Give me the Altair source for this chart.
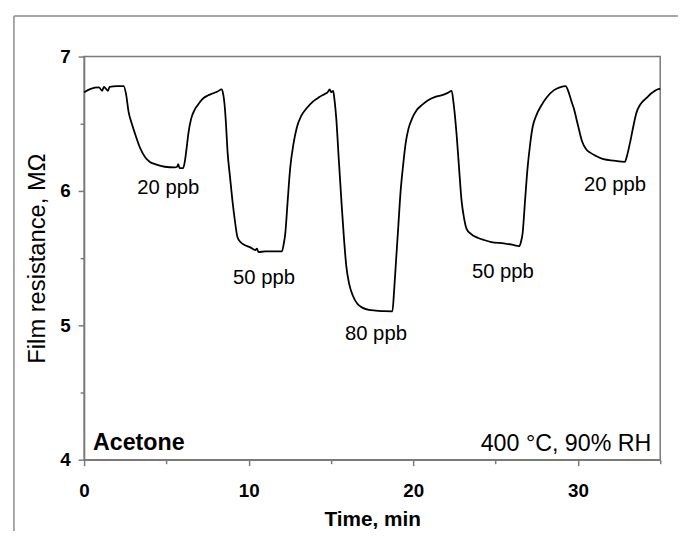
import altair as alt
import pandas as pd

# ---- data ----
time_min = [
    0, 0.4, 0.9, 1.1, 1.2, 1.45, 1.55, 2.0, 2.4,
    2.55, 2.7, 2.9, 3.11, 3.4, 3.71, 4.0, 4.31, 4.9, 5.5, 5.65, 5.72, 5.8, 6.02,
    6.12, 6.21, 6.35, 6.51, 6.7, 6.91, 7.2, 7.51, 7.8, 8.11, 8.35,
    8.45, 8.52, 8.62, 8.71, 8.86, 9.01, 9.16, 9.31, 9.5, 9.72, 10.1, 10.4, 10.5, 10.6, 11.0, 11.5, 12.02,
    12.12, 12.22, 12.37, 12.52, 12.72, 12.92, 13.2, 13.52, 13.9, 14.32, 14.6, 14.8, 14.92, 15.0, 15.13,
    15.22, 15.32, 15.47, 15.63, 15.78, 15.93, 16.1, 16.33, 16.6, 16.93, 17.3, 17.73, 18.2, 18.73,
    18.83, 18.93, 19.08, 19.23, 19.38, 19.53, 19.7, 19.93, 20.2, 20.53, 20.9, 21.33, 21.8, 22.1, 22.33,
    22.45, 22.63, 22.78, 22.93, 23.08, 23.23, 23.5, 23.94, 24.3, 24.74, 25.5, 26.0, 26.44,
    26.54, 26.64, 26.79, 26.94, 27.09, 27.24, 27.5, 27.75, 28.1, 28.55, 28.9, 29.25,
    29.45, 29.6, 29.75, 30.0, 30.25, 30.5, 30.75, 31.1, 31.55, 32.2, 32.85,
    32.98, 33.15, 33.35, 33.55, 33.8, 34.15, 34.5, 34.96, 35.0,
]
resistance = [
    6.735, 6.76, 6.77, 6.745, 6.775, 6.745, 6.775, 6.78, 6.78,
    6.72, 6.59, 6.50, 6.42, 6.32, 6.25, 6.215, 6.20, 6.18, 6.175, 6.18, 6.20, 6.17, 6.17,
    6.22, 6.30, 6.44, 6.54, 6.60, 6.64, 6.685, 6.71, 6.725, 6.74, 6.755,
    6.72, 6.66, 6.50, 6.30, 6.11, 5.93, 5.78, 5.66, 5.62, 5.60, 5.58, 5.56, 5.57, 5.545, 5.55, 5.55, 5.55,
    5.60, 5.68, 5.93, 6.17, 6.35, 6.47, 6.56, 6.615, 6.665, 6.70, 6.72, 6.735, 6.755, 6.735, 6.745,
    6.67, 6.54, 6.24, 5.93, 5.66, 5.44, 5.31, 5.22, 5.16, 5.13, 5.115, 5.11, 5.105, 5.104,
    5.25, 5.44, 5.72, 6.00, 6.19, 6.35, 6.46, 6.54, 6.60, 6.64, 6.675, 6.70, 6.715, 6.73, 6.745,
    6.65, 6.42, 6.17, 5.93, 5.80, 5.72, 5.68, 5.65, 5.635, 5.62, 5.61, 5.60, 5.59,
    5.62, 5.685, 5.93, 6.17, 6.34, 6.47, 6.57, 6.63, 6.695, 6.75, 6.77, 6.78,
    6.73, 6.67, 6.615, 6.49, 6.37, 6.31, 6.285, 6.26, 6.236, 6.225, 6.216,
    6.26, 6.35, 6.47, 6.58, 6.645, 6.69, 6.73, 6.76, 6.76,
]

label_text = ["20 ppb", "50 ppb", "80 ppb", "50 ppb", "20 ppb"]
label_time = [5.11, 10.93, 17.73, 25.44, 32.25]
label_value = [5.98, 5.305, 4.888, 5.354, 6.003]

x_ticks = [0, 5, 10, 15, 20, 25, 30, 35]
y_ticks = [4, 4.5, 5, 5.5, 6, 6.5, 7]

FONT = "Liberation Sans"
AXIS_GREY = "#7a7a7a"

df = pd.DataFrame({"t": time_min, "r": resistance})
labels = pd.DataFrame({"text": label_text, "t": label_time, "r": label_value})

x_scale = alt.Scale(domain=[0, 35], nice=False, zero=False)
y_scale = alt.Scale(domain=[4, 7], nice=False, zero=False)

x_axis = alt.Axis(
    title="Time, min",
    values=x_ticks,
    labelExpr="datum.value % 10 === 0 ? format(datum.value, 'd') : ''",
    tickSize={"condition": {"test": "datum.value % 10 !== 0", "value": 4}, "value": 6},
    grid=False,
    labelFont=FONT, labelFontSize=19, labelFontWeight="bold", labelColor="black",
    labelPadding=16, labelFlush=False, labelOverlap=False,
    titleFont=FONT, titleFontSize=21, titleFontWeight="bold", titleColor="black",
    titlePadding=9,
    domainColor=AXIS_GREY, domainWidth=1.5, tickColor=AXIS_GREY, tickWidth=1.5,
)
y_axis = alt.Axis(
    title="Film resistance, MΩ",
    values=y_ticks,
    labelExpr="datum.value % 1 === 0 ? format(datum.value, 'd') : ''",
    tickSize={"condition": {"test": "datum.value % 1 !== 0", "value": 4}, "value": 6},
    grid=False,
    labelFont=FONT, labelFontSize=19, labelFontWeight="bold", labelColor="black",
    labelPadding=8, labelFlush=False, labelOverlap=False,
    titleFont=FONT, titleFontSize=24, titleFontWeight="normal", titleColor="black",
    titlePadding=10,
    domainColor=AXIS_GREY, domainWidth=1.5, tickColor=AXIS_GREY, tickWidth=1.5,
)

line = alt.Chart(df).mark_line(color="black", strokeWidth=1.8, interpolate="monotone").encode(
    x=alt.X("t:Q", scale=x_scale, axis=x_axis),
    y=alt.Y("r:Q", scale=y_scale, axis=y_axis),
)

conc = alt.Chart(labels).mark_text(
    font=FONT, fontSize=20.5, color="black", align="center", baseline="alphabetic"
).encode(
    x=alt.X("t:Q", scale=x_scale),
    y=alt.Y("r:Q", scale=y_scale),
    text="text:N",
)

corner_df = pd.DataFrame({"gas": ["Acetone"], "cond": ["400 °C, 90% RH"]})
gas = alt.Chart(corner_df).mark_text(
    font=FONT, fontSize=23.5, fontWeight="bold", color="black", align="left", baseline="alphabetic"
).encode(x=alt.value(9), y=alt.value(398), text="gas:N")
cond = alt.Chart(corner_df).mark_text(
    font=FONT, fontSize=23.5, color="black", align="right", baseline="alphabetic"
).encode(x=alt.value(574), y=alt.value(399), text="cond:N")

frame_top = alt.Chart(corner_df).mark_rule(color="#8a8a8a", strokeWidth=1.5).encode(
    x=alt.value(-71), x2=alt.value(620), y=alt.value(-41)
)
frame_left = alt.Chart(corner_df).mark_rule(color="#8a8a8a", strokeWidth=1.5).encode(
    x=alt.value(-71), y=alt.value(-41), y2=alt.value(500)
)

chart = alt.layer(line, conc, gas, cond, frame_top, frame_left).properties(
    width=583,
    height=408,
    padding={"left": 77, "top": 46, "right": 18, "bottom": 69},
    autosize=alt.AutoSizeParams(type="none"),
    background="white",
).configure_view(stroke=AXIS_GREY, strokeWidth=1.5)

chart.save("out.html", embed_options={"renderer": "svg", "actions": False})
